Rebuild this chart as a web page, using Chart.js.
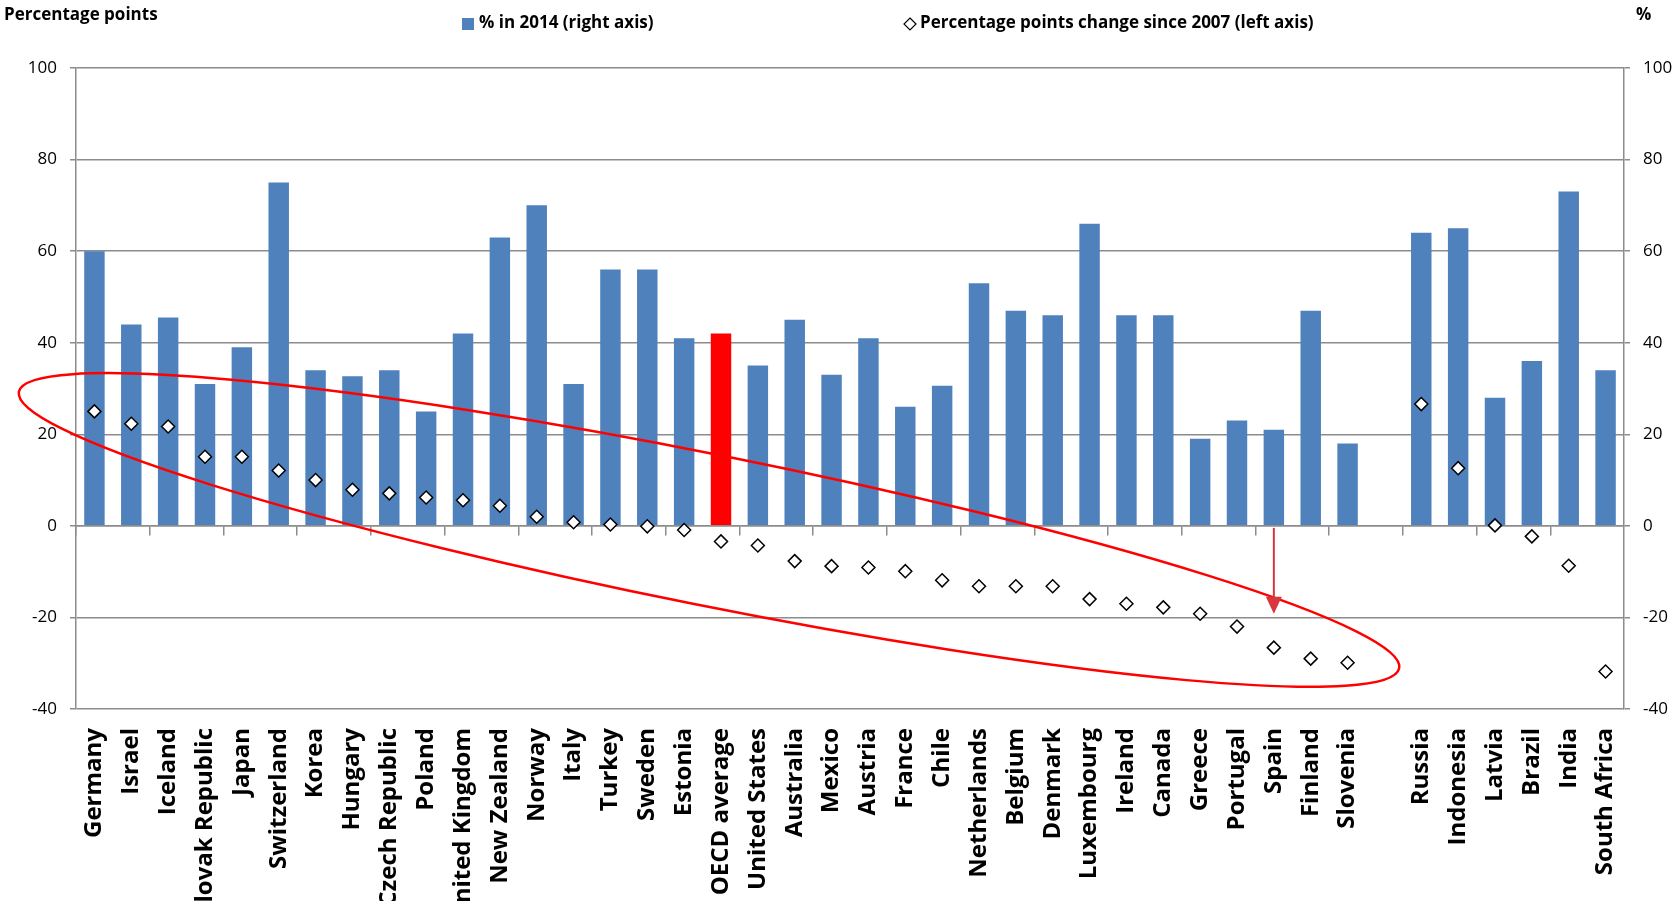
<!DOCTYPE html>
<html>
<head>
<meta charset="utf-8">
<title>Percentage points change since 2007</title>
<script src="https://cdn.jsdelivr.net/npm/chart.js@4.4.1/dist/chart.umd.min.js"></script>
<style>
  html, body { margin: 0; padding: 0; background: #fff; }
  #wrap { width: 1678px; height: 901px; }
</style>
</head>
<body>
<div id="wrap"><canvas id="chart" width="1678" height="901"></canvas></div>
<script>
const countries = ['Germany', 'Israel', 'Iceland', 'Slovak Republic', 'Japan', 'Switzerland', 'Korea', 'Hungary',
  'Czech Republic', 'Poland', 'United Kingdom', 'New Zealand', 'Norway', 'Italy', 'Turkey', 'Sweden', 'Estonia',
  'OECD average', 'United States', 'Australia', 'Mexico', 'Austria', 'France', 'Chile', 'Netherlands', 'Belgium',
  'Denmark', 'Luxembourg', 'Ireland', 'Canada', 'Greece', 'Portugal', 'Spain', 'Finland', 'Slovenia', '',
  'Russia', 'Indonesia', 'Latvia', 'Brazil', 'India', 'South Africa'];

// % in 2014 (right axis)
const share2014 = [60, 44, 45.5, 31, 39, 75, 34, 32.7, 34, 25, 42, 63, 70, 31, 56, 56, 41,
  42, 35, 45, 33, 41, 26, 30.6, 53, 47, 46, 66, 46, 46, 19, 23, 21, 47, 18, null,
  64, 65, 28, 36, 73, 34];

// percentage points change since 2007 (left axis)
const change2007 = [25, 22.3, 21.7, 15.1, 15.1, 12.1, 10, 7.9, 7.1, 6.2, 5.6, 4.4, 2.0, 0.8, 0.3, -0.1, -0.9,
  -3.4, -4.3, -7.7, -8.8, -9.1, -9.9, -11.9, -13.2, -13.2, -13.2, -16.0, -17, -17.8, -19.2, -22, -26.6, -29, -29.9, null,
  26.6, 12.6, 0.1, -2.3, -8.7, -31.8];

const axisMin = -40;
const axisMax = 100;
const axisStep = 20;

const highlight = 'OECD average';
const barBlue = '#4F81BD';
const barRed = '#FF0000';
const gridGrey = '#8c8c8c';
const labelFont = '"Open Sans", "Liberation Sans", Arial, sans-serif';

// red ring round the countries that lost ground: two ends (category index, left-axis value) and half width in axis units
const ringEnds = [[-2.05, 29.3], [35.4, -31.1]];
const ringHalf = 16.5;
// arrow under Spain, from 0 down to this value
const arrowAt = 'Spain';
const arrowTo = -19.2;

const decorations = {
  id: 'decorations',
  afterDraw(chart) {
    const { ctx } = chart;
    const x = chart.scales.x;
    const y = chart.scales.y;
    const bars = chart.data.datasets[0];
    const dots = chart.data.datasets[1];

    ctx.save();
    ctx.font = 'bold 17px ' + labelFont;
    ctx.textBaseline = 'middle';
    ctx.textAlign = 'left';
    ctx.fillStyle = '#000';
    ctx.fillText('Percentage points', 4, 15);
    ctx.fillText('%', 1636, 15);

    // legend
    ctx.fillStyle = barBlue;
    ctx.fillRect(462, 18, 12, 12);
    ctx.fillStyle = '#000';
    ctx.fillText(bars.label, 479, 23);

    ctx.beginPath();
    ctx.moveTo(910, 18);
    ctx.lineTo(916, 24);
    ctx.lineTo(910, 30);
    ctx.lineTo(904, 24);
    ctx.closePath();
    ctx.fillStyle = '#fff';
    ctx.fill();
    ctx.strokeStyle = '#000';
    ctx.lineWidth = 1.2;
    ctx.stroke();
    ctx.fillStyle = '#000';
    ctx.fillText(dots.label, 920, 23);

    // ring
    const x1 = x.getPixelForValue(ringEnds[0][0]), y1 = y.getPixelForValue(ringEnds[0][1]);
    const x2 = x.getPixelForValue(ringEnds[1][0]), y2 = y.getPixelForValue(ringEnds[1][1]);
    const a = Math.hypot(x2 - x1, y2 - y1) / 2;
    const b = y.getPixelForValue(0) - y.getPixelForValue(ringHalf);
    ctx.beginPath();
    ctx.ellipse((x1 + x2) / 2, (y1 + y2) / 2, a, b, Math.atan2(y2 - y1, x2 - x1), 0, Math.PI * 2);
    ctx.strokeStyle = '#FF0000';
    ctx.lineWidth = 2.5;
    ctx.stroke();

    // arrow
    const ax = x.getPixelForValue(countries.indexOf(arrowAt));
    const top = y.getPixelForValue(0) + 2;
    const tip = y.getPixelForValue(arrowTo);
    ctx.strokeStyle = '#D9363E';
    ctx.fillStyle = '#D9363E';
    ctx.lineWidth = 2;
    ctx.beginPath();
    ctx.moveTo(ax, top);
    ctx.lineTo(ax, tip - 14);
    ctx.stroke();
    ctx.beginPath();
    ctx.moveTo(ax - 8, tip - 17);
    ctx.lineTo(ax + 8, tip - 17);
    ctx.lineTo(ax, tip);
    ctx.closePath();
    ctx.fill();
    ctx.restore();
  }
};

const valueTicks = {
  stepSize: axisStep,
  color: '#000',
  font: { family: labelFont, size: 17 }
};

new Chart(document.getElementById('chart'), {
  data: {
    labels: countries,
    datasets: [
      {
        type: 'bar',
        label: '% in 2014 (right axis)',
        data: share2014,
        yAxisID: 'y2',
        backgroundColor: countries.map(c => c === highlight ? barRed : barBlue),
        borderWidth: 0,
        barPercentage: 0.555,
        categoryPercentage: 1,
        order: 1
      },
      {
        type: 'line',
        label: 'Percentage points change since 2007 (left axis)',
        data: change2007,
        yAxisID: 'y',
        showLine: false,
        pointStyle: 'rectRot',
        pointRadius: 6.5,
        pointHoverRadius: 6.5,
        pointBackgroundColor: '#fff',
        pointBorderColor: '#000',
        pointBorderWidth: 1.5,
        order: 0
      }
    ]
  },
  options: {
    responsive: false,
    animation: false,
    devicePixelRatio: 1,
    layout: { padding: { top: 68, left: 0, right: 0, bottom: 0 } },
    plugins: {
      legend: { display: false },
      tooltip: { enabled: false }
    },
    scales: {
      x: {
        type: 'category',
        position: 'bottom',
        offset: true,
        grid: { display: false, drawTicks: false },
        border: { display: false },
        ticks: {
          autoSkip: false,
          minRotation: 90,
          maxRotation: 90,
          padding: 19,
          color: '#000',
          font: { family: labelFont, size: 24, weight: 'bold' }
        },
        afterFit(s) { s.height = 192; }
      },
      xZero: {
        type: 'category',
        position: { y: 0 },
        offset: true,
        grid: {
          offset: true,
          drawOnChartArea: false,
          drawTicks: true,
          tickLength: 9,
          lineWidth: 1.5,
          color: c => c.index % 2 === 0 ? gridGrey : 'rgba(0,0,0,0)'
        },
        border: { display: true, color: gridGrey, width: 1.5 },
        ticks: { display: false },
        afterFit(s) { s.height = 0; }
      },
      y: {
        position: 'left',
        min: axisMin,
        max: axisMax,
        grid: { color: gridGrey, lineWidth: 1.5, tickLength: 6 },
        border: { color: gridGrey, width: 1.5 },
        ticks: { ...valueTicks, padding: 13 },
        afterFit(s) { s.width = 76; }
      },
      y2: {
        position: 'right',
        min: axisMin,
        max: axisMax,
        grid: { drawOnChartArea: false, color: gridGrey, lineWidth: 1.5, tickLength: 6 },
        border: { color: gridGrey, width: 1.5 },
        ticks: { ...valueTicks, padding: 13 },
        afterFit(s) { s.width = 54; }
      }
    }
  },
  plugins: [decorations]
});
</script>
</body>
</html>
